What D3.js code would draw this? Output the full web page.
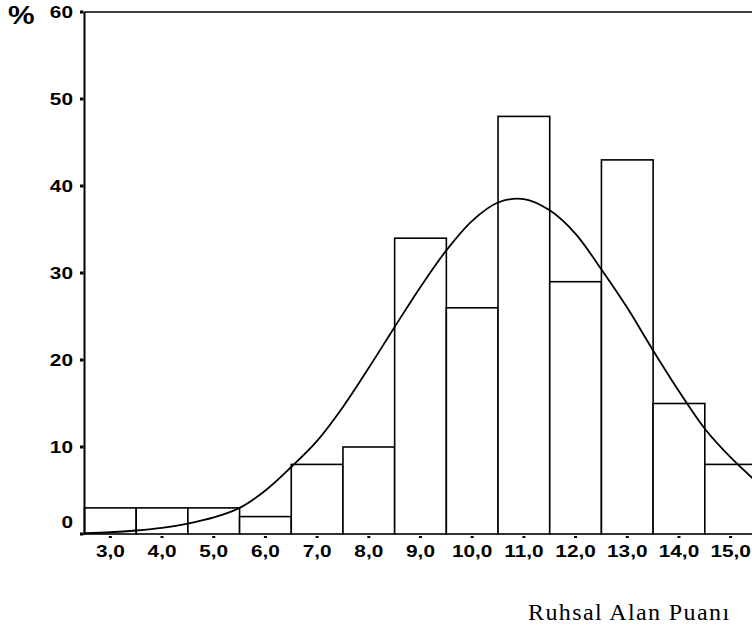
<!DOCTYPE html>
<html>
<head>
<meta charset="utf-8">
<script src="https://cdn.jsdelivr.net/npm/d3@7/dist/d3.min.js"></script>
<style>
  html, body { margin: 0; padding: 0; background: #fff; }
  svg { display: block; }
</style>
</head>
<body>
<svg id="chart" width="752" height="634"></svg>
<script>
// Histogram of "Ruhsal Alan Puanı" scores with a fitted normal curve.
const binCenters = [3, 4, 5, 6, 7, 8, 9, 10, 11, 12, 13, 14, 15];
const binCounts  = [3, 3, 3, 2, 8, 10, 34, 26, 48, 29, 43, 15, 8];

const xTickValues = [3, 4, 5, 6, 7, 8, 9, 10, 11, 12, 13, 14, 15];
const yTickValues = [0, 10, 20, 30, 40, 50, 60];

// Normal curve, sampled every half unit
const curveX = [2.5, 3.0, 3.5, 4.0, 4.5, 5.0, 5.5, 6.0, 6.5, 7.0, 7.5, 8.0, 8.5, 9.0,
                9.5, 10.0, 10.5, 11.0, 11.5, 12.0, 12.5, 13.0, 13.5, 14.0, 14.5, 15.0, 15.5];
const curveY = [0.1, 0.2, 0.4, 0.7, 1.2, 1.9, 3.0, 5.0, 7.7, 10.7, 14.6, 19.1, 23.8, 28.4,
                32.6, 36.0, 38.1, 38.5, 37.2, 34.5, 30.4, 26.0, 21.1, 16.4, 12.1, 8.8, 6.0];

const svg = d3.select("#chart");

const x = d3.scaleLinear().domain([2.5, 15.5]).range([84.5, 756.5]);
const y = d3.scaleLinear().domain([0, 60]).range([534, 12]);

const sansFont = "'Liberation Sans', Arial, sans-serif";

// Bars
svg.append("g")
  .selectAll("rect")
  .data(binCenters.map((c, i) => ({ c, v: binCounts[i] })))
  .join("rect")
  .attr("x", d => x(d.c - 0.5))
  .attr("y", d => y(d.v))
  .attr("width", d => x(d.c + 0.5) - x(d.c - 0.5))
  .attr("height", d => y(0) - y(d.v))
  .attr("fill", "#fff")
  .attr("stroke", "#000")
  .attr("stroke-width", 1.6);

// Fitted normal curve
const line = d3.line()
  .x((d, i) => x(curveX[i]))
  .y(d => y(d))
  .curve(d3.curveCatmullRom);

svg.append("path")
  .attr("d", line(curveY))
  .attr("fill", "none")
  .attr("stroke", "#000")
  .attr("stroke-width", 1.8);

// Frame: left axis line and top border
svg.append("line")
  .attr("x1", x(2.5)).attr("x2", x(2.5))
  .attr("y1", y(60)).attr("y2", y(0) + 1)
  .attr("stroke", "#000").attr("stroke-width", 2);
svg.append("line")
  .attr("x1", x(2.5)).attr("x2", 752)
  .attr("y1", y(60)).attr("y2", y(60))
  .attr("stroke", "#000").attr("stroke-width", 1.5);

// Y axis ticks and labels
const yAxis = svg.append("g");
yAxis.selectAll("rect.tick")
  .data(yTickValues)
  .join("rect")
  .attr("class", "tick")
  .attr("x", x(2.5) - 4.5)
  .attr("y", d => y(d) - 1.5)
  .attr("width", 3.5)
  .attr("height", 3)
  .attr("fill", "#000");

yAxis.selectAll("text")
  .data(yTickValues)
  .join("text")
  .attr("transform", d => `translate(73, ${y(d) + (d === 0 ? -12 : 0)}) scale(1.3, 1)`)
  .attr("text-anchor", "end")
  .attr("dy", "0.36em")
  .attr("font-family", sansFont)
  .attr("font-size", 16)
  .attr("font-weight", "bold")
  .attr("fill", "#000")
  .text(d => d);

// X axis ticks and labels
const xAxis = svg.append("g");
xAxis.selectAll("rect")
  .data(xTickValues)
  .join("rect")
  .attr("x", d => x(d) - 1.5)
  .attr("y", y(0) + 2)
  .attr("width", 3)
  .attr("height", 2)
  .attr("fill", "#000");

const fmt = v => d3.format(".1f")(v).replace(".", ",");
xAxis.selectAll("text")
  .data(xTickValues)
  .join("text")
  .attr("transform", d => `translate(${x(d)}, 557) scale(1.3, 1)`)
  .attr("text-anchor", "middle")
  .attr("font-family", sansFont)
  .attr("font-size", 16)
  .attr("font-weight", "bold")
  .attr("fill", "#000")
  .text(d => fmt(d));

// Y axis unit
svg.append("text")
  .attr("transform", "translate(8, 24) scale(1.15, 1)")
  .attr("font-family", sansFont)
  .attr("font-size", 26)
  .attr("font-weight", "bold")
  .attr("fill", "#000")
  .text("%");

// X axis title
svg.append("text")
  .attr("x", 528)
  .attr("y", 620)
  .attr("font-family", "'Liberation Serif', 'Times New Roman', serif")
  .attr("font-size", 24)
  .attr("letter-spacing", 1.4)
  .attr("fill", "#000")
  .text("Ruhsal Alan Puanı");
</script>
</body>
</html>
